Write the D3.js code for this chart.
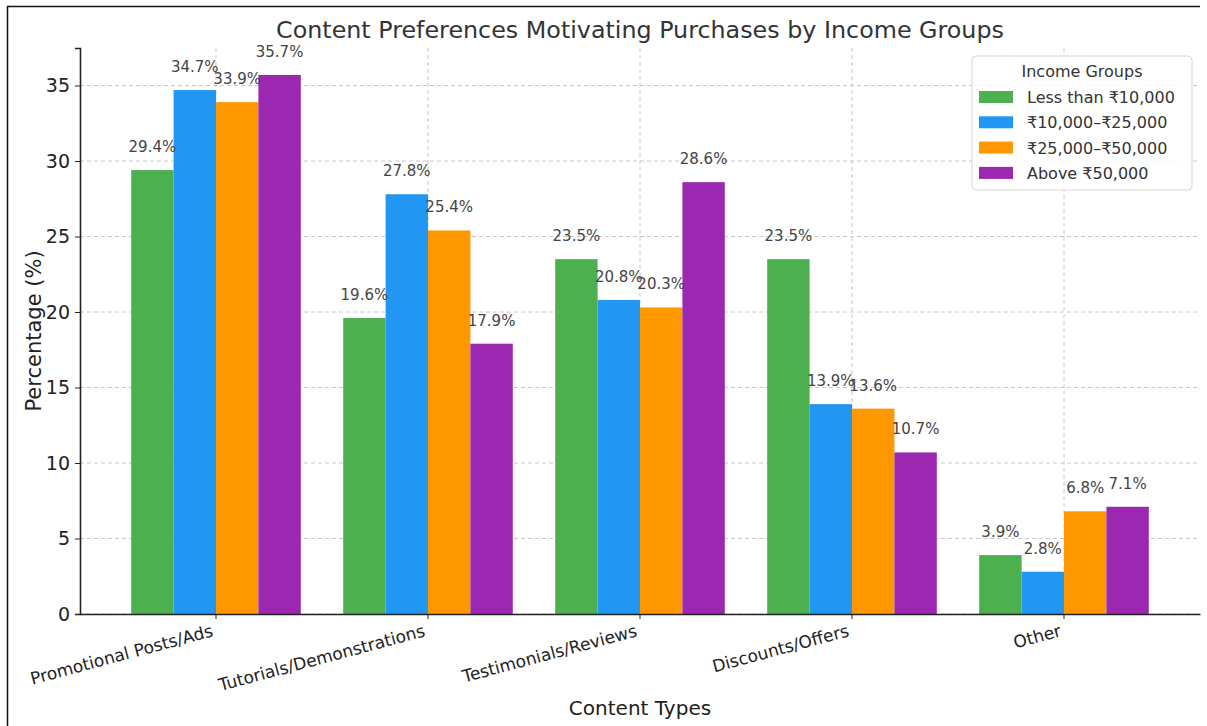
<!DOCTYPE html>
<html>
<head>
<meta charset="utf-8">
<script src="https://cdn.jsdelivr.net/npm/d3@7"></script>
<style>
  html, body { margin: 0; padding: 0; background: #fff; }
  svg { display: block; font-family: "DejaVu Sans", sans-serif; }
</style>
</head>
<body>
<svg id="chart" width="1207" height="726"></svg>
<script>
// Content types on the x axis
const categories = ["Promotional Posts/Ads", "Tutorials/Demonstrations", "Testimonials/Reviews", "Discounts/Offers", "Other"];
// Income groups (one bar per group in each category)
const groups = ["Less than ₹10,000", "₹10,000–₹25,000", "₹25,000–₹50,000", "Above ₹50,000"];
// Percentages per income group, in category order
const lessThan10k = [29.4, 19.6, 23.5, 23.5, 3.9];
const from10kTo25k = [34.7, 27.8, 20.8, 13.9, 2.8];
const from25kTo50k = [33.9, 25.4, 20.3, 13.6, 6.8];
const above50k = [35.7, 17.9, 28.6, 10.7, 7.1];
const yTicks = [0, 5, 10, 15, 20, 25, 30, 35];
const colors = ["#4CAF50", "#2196F3", "#FF9800", "#9C27B0"];

const series = [lessThan10k, from10kTo25k, from25kTo50k, above50k];

const svg = d3.select("#chart");
const m = { left: 80, right: 1200, top: 48, bottom: 614 };

// Outer frame
svg.append("line").attr("x1", 7).attr("x2", 1200).attr("y1", 6.5).attr("y2", 6.5)
  .attr("stroke", "#111").attr("stroke-width", 1.5);
svg.append("line").attr("x1", 7.5).attr("x2", 7.5).attr("y1", 6).attr("y2", 726)
  .attr("stroke", "#111").attr("stroke-width", 1.5);

const x = d3.scaleBand().domain(categories).range([m.left, m.right])
  .paddingInner(0.2).paddingOuter(0.2415);
const xs = d3.scaleBand().domain(d3.range(groups.length)).range([0, x.bandwidth()]).padding(0);
const y = d3.scaleLinear().domain([0, 37.485]).range([m.bottom, m.top]);

// Grid
const grid = svg.append("g");
grid.selectAll("line.h").data(yTicks).join("line")
  .attr("x1", m.left).attr("x2", m.right)
  .attr("y1", d => y(d)).attr("y2", d => y(d))
  .attr("stroke", "#c8c8c8").attr("stroke-dasharray", "4,3").attr("stroke-width", 1);
grid.selectAll("line.v").data(categories).join("line")
  .attr("x1", d => x(d) + x.bandwidth() / 2).attr("x2", d => x(d) + x.bandwidth() / 2)
  .attr("y1", m.top).attr("y2", m.bottom)
  .attr("stroke", "#c8c8c8").attr("stroke-dasharray", "4,3").attr("stroke-width", 1);

// Bars
const gBars = svg.append("g");
series.forEach((vals, gi) => {
  gBars.selectAll(null).data(vals).join("rect")
    .attr("x", (d, i) => x(categories[i]) + xs(gi))
    .attr("width", xs.bandwidth())
    .attr("y", d => y(d))
    .attr("height", d => y(0) - y(d))
    .attr("fill", colors[gi]);
});

// Value labels
series.forEach((vals, gi) => {
  svg.append("g").selectAll("text").data(vals).join("text")
    .attr("x", (d, i) => x(categories[i]) + xs(gi) + xs.bandwidth() / 2)
    .attr("y", d => y(d + 1) - 3)
    .attr("text-anchor", "middle")
    .attr("font-size", 15)
    .attr("fill", "#444")
    .text(d => d.toFixed(1) + "%");
});

// Y axis
const yAxis = svg.append("g").attr("transform", `translate(${m.left},0)`)
  .call(d3.axisLeft(y).tickValues(yTicks).tickSize(5).tickPadding(5));
yAxis.select(".domain").attr("stroke", "#222").attr("stroke-width", 1.6);
yAxis.selectAll(".tick line").attr("stroke", "#222");
yAxis.selectAll(".tick text").attr("font-size", 19).attr("fill", "#222")
  .attr("font-family", "DejaVu Sans, sans-serif");

// X axis
const xAxis = svg.append("g").attr("transform", `translate(0,${m.bottom})`)
  .call(d3.axisBottom(x).tickSize(5).tickSizeOuter(0));
xAxis.select(".domain").attr("stroke", "#222").attr("stroke-width", 1.6);
xAxis.selectAll(".tick line").attr("stroke", "#222");
xAxis.selectAll(".tick text")
  .attr("font-size", 17).attr("fill", "#222")
  .attr("font-family", "DejaVu Sans, sans-serif")
  .attr("text-anchor", "end")
  .attr("dy", null).attr("y", 0)
  .attr("transform", "translate(-2,22) rotate(-15)");

// Axis titles
svg.append("text").attr("x", (m.left + m.right) / 2).attr("y", 715)
  .attr("text-anchor", "middle").attr("font-size", 20).attr("fill", "#222")
  .text("Content Types");
svg.append("text").attr("transform", `translate(41,${(m.top + m.bottom) / 2}) rotate(-90)`)
  .attr("text-anchor", "middle").attr("font-size", 21).attr("fill", "#222")
  .text("Percentage (%)");

// Title
svg.append("text").attr("x", (m.left + m.right) / 2).attr("y", 38)
  .attr("text-anchor", "middle").attr("font-size", 23.8).attr("fill", "#333")
  .text("Content Preferences Motivating Purchases by Income Groups");

// Legend
const lg = svg.append("g").attr("transform", "translate(972,56)");
lg.append("rect").attr("width", 220).attr("height", 134).attr("rx", 4)
  .attr("fill", "#fff").attr("fill-opacity", 0.85).attr("stroke", "#d6d6d6");
lg.append("text").attr("x", 110).attr("y", 21).attr("text-anchor", "middle")
  .attr("font-size", 16).attr("fill", "#333").text("Income Groups");
groups.forEach((g, i) => {
  const yy = 41 + i * 25.3;
  lg.append("rect").attr("x", 7).attr("y", yy - 6).attr("width", 34).attr("height", 12)
    .attr("fill", colors[i]);
  lg.append("text").attr("x", 55).attr("y", yy + 6).attr("font-size", 16)
    .attr("fill", "#333").text(g);
});
</script>
</body>
</html>
